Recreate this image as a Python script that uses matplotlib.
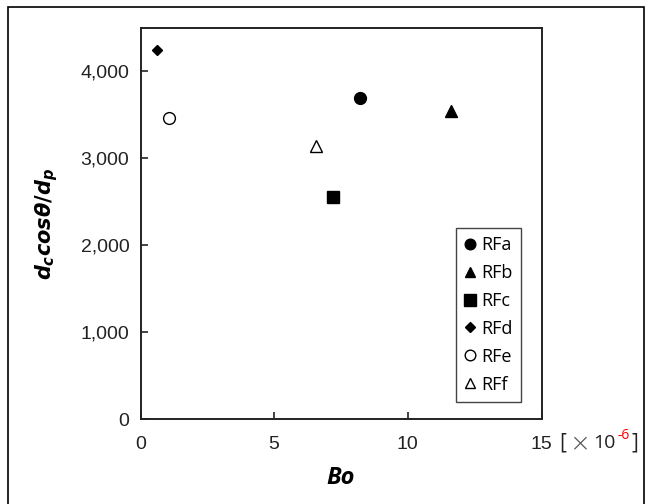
import matplotlib.pyplot as plt
from matplotlib.patches import Rectangle

plt.rcParams['font.family'] = ['Liberation Sans', 'DejaVu Sans']
plt.rcParams['mathtext.fontset'] = 'custom'
plt.rcParams['mathtext.it'] = 'DejaVu Sans:italic:bold'
plt.rcParams['mathtext.rm'] = 'DejaVu Sans:bold'

# donnees (Bo en 1e-6)
labels = ['RFa', 'RFb', 'RFc', 'RFd', 'RFe', 'RFf']
bo = [8.2, 11.63, 7.21, 0.61, 1.05, 6.56]
ratio = [3700, 3550, 2550, 4250, 3460, 3140]
markers = ['o', '^', 's', 'D', 'o', '^']
filled = [True, True, True, True, False, False]
sizes = [8.5, 8, 9, 5.5, 8.5, 8.5]

fig = plt.figure(figsize=(6.52, 5.04), dpi=100)
ax = fig.add_axes([140.5 / 652, 1 - 419 / 504, 401 / 652, 391 / 504])

# cadre exterieur
fig.patches.append(Rectangle((8 / 652, -0.05), 636 / 652, 1.05 - 7 / 504,
                             transform=fig.transFigure, fill=False,
                             edgecolor='black', linewidth=1.2))

for i in range(len(labels)):
    face = 'black' if filled[i] else 'white'
    ax.plot(bo[i], ratio[i], linestyle='none', marker=markers[i],
            markersize=sizes[i], markerfacecolor=face,
            markeredgecolor='black', markeredgewidth=1.0, label=labels[i])

ax.set_xlim(0, 15)
ax.set_ylim(0, 4500)
ax.set_xticks([0, 5, 10, 15])
ax.set_xticklabels(['0', '5', '10', '15'])
ax.set_yticks([0, 1000, 2000, 3000, 4000])
ax.set_yticklabels(['0', '1,000', '2,000', '3,000', '4,000'])
ax.tick_params(direction='in', length=5, width=1.2, labelsize=14, colors='#222222')
ax.tick_params(axis='x', pad=12)
ax.tick_params(axis='y', pad=8)
for s in ax.spines.values():
    s.set_linewidth(1.4)
    s.set_color('#222222')

ax.set_xlabel('Bo', fontsize=17, fontweight='bold', fontstyle='italic',
              family=['Open Sans', 'DejaVu Sans'])
ax.xaxis.set_label_coords(0.5, (419 - 466) / 391)
ax.set_ylabel(r'$d_c cos\theta/d_p$', fontsize=15)
ax.yaxis.set_label_coords((60 - 140.5) / 401, 0.5)

# unite apres le 15
ty = 1 - 443 / 504
fig.text(559 / 652, ty, '[', fontsize=15, va='center', color='#222222',
         family=['Open Sans', 'DejaVu Sans'])
fig.text(570 / 652, ty, '\u00d7', fontsize=18, va='center', color='#555555',
         family=['DejaVu Sans'], fontweight='light')
fig.text(593 / 652, ty, '10', fontsize=14, va='center', color='#222222',
         family=['Open Sans', 'DejaVu Sans'])
fig.text(618 / 652, ty + 0.014, '-6', fontsize=10, va='center', color='red',
         family=['Open Sans', 'DejaVu Sans'])
fig.text(631 / 652, ty, ']', fontsize=15, va='center', color='#222222',
         family=['Open Sans', 'DejaVu Sans'])

leg = ax.legend(loc='lower right', bbox_to_anchor=(0.949, 0.044), borderaxespad=0,
                fancybox=False, edgecolor='#444444', framealpha=1,
                prop={'family': ['Open Sans', 'DejaVu Sans'], 'size': 13},
                handlelength=0.6, handletextpad=0.35, labelspacing=0.55,
                markerscale=0.9, borderpad=0.45)
leg.get_frame().set_linewidth(1.0)

fig.savefig('out.png', dpi=100)
